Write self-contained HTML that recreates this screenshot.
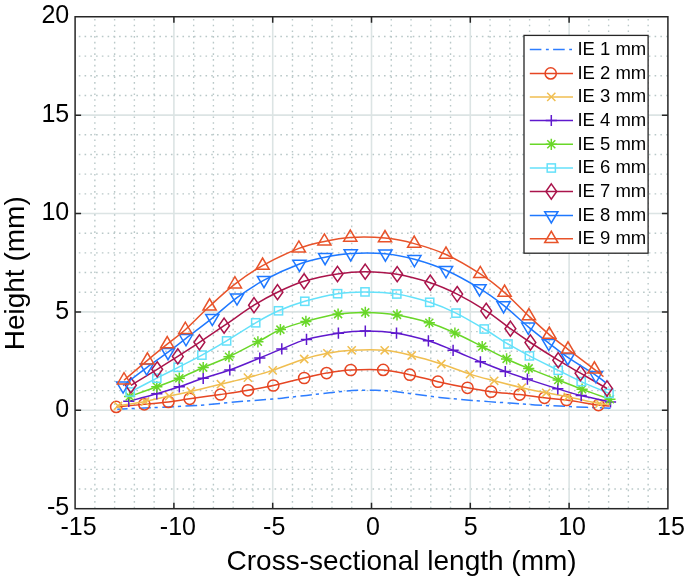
<!DOCTYPE html><html><head><meta charset="utf-8"><style>html,body{margin:0;padding:0;background:#fff;}svg{display:block;will-change:transform;}text{font-family:"Liberation Sans",sans-serif;}</style></head><body>
<svg width="685" height="579" viewBox="0 0 685 579">
<rect width="685" height="579" fill="#fff"/>
<path d="M94.86,508.70V16.75M114.62,508.70V16.75M134.38,508.70V16.75M154.14,508.70V16.75M193.66,508.70V16.75M213.42,508.70V16.75M233.18,508.70V16.75M252.94,508.70V16.75M292.46,508.70V16.75M312.22,508.70V16.75M331.98,508.70V16.75M351.74,508.70V16.75M391.26,508.70V16.75M411.02,508.70V16.75M430.78,508.70V16.75M450.54,508.70V16.75M490.06,508.70V16.75M509.82,508.70V16.75M529.58,508.70V16.75M549.34,508.70V16.75M588.86,508.70V16.75M608.62,508.70V16.75M628.38,508.70V16.75M648.14,508.70V16.75" stroke="#b9c8c8" stroke-width="1.4" stroke-dasharray="1.6 4.14" stroke-dashoffset="-0.3" fill="none"/>
<path d="M75.10,489.02H667.90M75.10,469.34H667.90M75.10,449.67H667.90M75.10,429.99H667.90M75.10,390.63H667.90M75.10,370.95H667.90M75.10,351.28H667.90M75.10,331.60H667.90M75.10,292.24H667.90M75.10,272.56H667.90M75.10,252.89H667.90M75.10,233.21H667.90M75.10,193.85H667.90M75.10,174.17H667.90M75.10,154.50H667.90M75.10,134.82H667.90M75.10,95.46H667.90M75.10,75.78H667.90M75.10,56.11H667.90M75.10,36.43H667.90" stroke="#b9c8c8" stroke-width="1.4" stroke-dasharray="1.6 4.158" stroke-dashoffset="-3.7" fill="none"/>
<path d="M173.90,508.70V16.75M272.70,508.70V16.75M371.50,508.70V16.75M470.30,508.70V16.75M569.10,508.70V16.75M75.10,410.31H667.90M75.10,311.92H667.90M75.10,213.53H667.90M75.10,115.14H667.90" stroke="#dce4e4" stroke-width="1.6" fill="none"/>
<path d="M117.30,409.20 C122.75,408.97 136.22,408.47 150.00,407.80 C163.78,407.13 185.00,406.23 200.00,405.20 C215.00,404.17 227.88,402.63 240.00,401.60 C252.12,400.57 265.20,399.63 272.70,399.00 C280.20,398.37 279.37,398.40 285.00,397.80 C290.63,397.20 299.08,396.23 306.50,395.40 C313.92,394.57 321.92,393.62 329.50,392.80 C337.08,391.98 345.75,390.93 352.00,390.50 C358.25,390.07 363.08,390.25 367.00,390.20 C370.92,390.15 372.23,390.10 375.50,390.20 C378.77,390.30 382.80,390.52 386.60,390.80 C390.40,391.08 394.25,391.42 398.30,391.90 C402.35,392.38 404.03,392.78 410.90,393.70 C417.77,394.62 429.28,396.28 439.50,397.40 C449.72,398.52 460.45,399.45 472.20,400.40 C483.95,401.35 499.53,402.35 510.00,403.10 C520.47,403.85 525.00,404.32 535.00,404.90 C545.00,405.48 557.42,406.03 570.00,406.60 C582.58,407.17 603.75,408.02 610.50,408.30" stroke="#2d7dff" stroke-width="1.5" fill="none" stroke-dasharray="11.6 3.9 3.2 4.4" stroke-dashoffset="1.11"/>
<path d="M116.20,406.90 C120.88,406.47 135.60,405.13 144.30,404.30 C153.00,403.47 160.83,402.82 168.40,401.90 C175.97,400.98 181.02,400.03 189.70,398.80 C198.38,397.57 210.80,395.92 220.50,394.50 C230.20,393.08 239.10,391.80 247.90,390.30 C256.70,388.80 263.92,387.55 273.30,385.50 C282.68,383.45 295.32,380.07 304.20,378.00 C313.08,375.93 318.85,374.43 326.60,373.10 C334.35,371.77 341.27,370.53 350.70,370.00 C360.13,369.47 373.35,369.12 383.20,369.90 C393.05,370.68 400.68,372.73 409.80,374.70 C418.92,376.67 428.28,379.52 437.90,381.70 C447.52,383.88 458.63,386.13 467.50,387.80 C476.37,389.47 482.42,390.57 491.10,391.70 C499.78,392.83 510.70,393.58 519.60,394.60 C528.50,395.62 536.68,396.90 544.50,397.80 C552.32,398.70 557.50,398.78 566.50,400.00 C575.50,401.22 591.32,404.10 598.50,405.10 C605.68,406.10 607.75,405.85 609.60,406.00" stroke="#e64623" stroke-width="1.5" fill="none"/>
<circle cx="116.20" cy="406.90" r="5.6" fill="none" stroke="#e64623" stroke-width="1.5"/>
<circle cx="144.30" cy="404.30" r="5.6" fill="none" stroke="#e64623" stroke-width="1.5"/>
<circle cx="168.40" cy="401.90" r="5.6" fill="none" stroke="#e64623" stroke-width="1.5"/>
<circle cx="189.70" cy="398.80" r="5.6" fill="none" stroke="#e64623" stroke-width="1.5"/>
<circle cx="220.50" cy="394.50" r="5.6" fill="none" stroke="#e64623" stroke-width="1.5"/>
<circle cx="247.90" cy="390.30" r="5.6" fill="none" stroke="#e64623" stroke-width="1.5"/>
<circle cx="273.30" cy="385.50" r="5.6" fill="none" stroke="#e64623" stroke-width="1.5"/>
<circle cx="304.20" cy="378.00" r="5.6" fill="none" stroke="#e64623" stroke-width="1.5"/>
<circle cx="326.60" cy="373.10" r="5.6" fill="none" stroke="#e64623" stroke-width="1.5"/>
<circle cx="350.70" cy="370.00" r="5.6" fill="none" stroke="#e64623" stroke-width="1.5"/>
<circle cx="383.20" cy="369.90" r="5.6" fill="none" stroke="#e64623" stroke-width="1.5"/>
<circle cx="409.80" cy="374.70" r="5.6" fill="none" stroke="#e64623" stroke-width="1.5"/>
<circle cx="437.90" cy="381.70" r="5.6" fill="none" stroke="#e64623" stroke-width="1.5"/>
<circle cx="467.50" cy="387.80" r="5.6" fill="none" stroke="#e64623" stroke-width="1.5"/>
<circle cx="491.10" cy="391.70" r="5.6" fill="none" stroke="#e64623" stroke-width="1.5"/>
<circle cx="519.60" cy="394.60" r="5.6" fill="none" stroke="#e64623" stroke-width="1.5"/>
<circle cx="544.50" cy="397.80" r="5.6" fill="none" stroke="#e64623" stroke-width="1.5"/>
<circle cx="566.50" cy="400.00" r="5.6" fill="none" stroke="#e64623" stroke-width="1.5"/>
<circle cx="598.50" cy="405.10" r="5.6" fill="none" stroke="#e64623" stroke-width="1.5"/>
<path d="M118.00,405.80 C122.52,405.08 136.57,403.12 145.10,401.50 C153.63,399.88 161.58,397.77 169.20,396.10 C176.82,394.43 182.18,393.48 190.80,391.50 C199.42,389.52 211.38,386.52 220.90,384.20 C230.42,381.88 239.27,379.90 247.90,377.60 C256.53,375.30 263.32,373.50 272.70,370.40 C282.08,367.30 295.08,361.85 304.20,359.00 C313.32,356.15 319.48,354.75 327.40,353.30 C335.32,351.85 342.15,350.80 351.70,350.30 C361.25,349.80 374.70,349.43 384.70,350.30 C394.70,351.17 402.27,353.22 411.70,355.50 C421.13,357.78 431.58,360.90 441.30,364.00 C451.02,367.10 461.18,371.30 470.00,374.10 C478.82,376.90 485.57,378.53 494.20,380.80 C502.83,383.07 513.13,385.70 521.80,387.70 C530.47,389.70 538.53,391.28 546.20,392.80 C553.87,394.32 558.92,395.00 567.80,396.80 C576.68,398.60 592.57,402.40 599.50,403.60 C606.43,404.80 607.75,403.93 609.40,404.00" stroke="#f0be50" stroke-width="1.5" fill="none"/>
<path d="M113.90,401.70L122.10,409.90M113.90,409.90L122.10,401.70" stroke="#f0be50" stroke-width="1.5" fill="none"/>
<path d="M141.00,397.40L149.20,405.60M141.00,405.60L149.20,397.40" stroke="#f0be50" stroke-width="1.5" fill="none"/>
<path d="M165.10,392.00L173.30,400.20M165.10,400.20L173.30,392.00" stroke="#f0be50" stroke-width="1.5" fill="none"/>
<path d="M186.70,387.40L194.90,395.60M186.70,395.60L194.90,387.40" stroke="#f0be50" stroke-width="1.5" fill="none"/>
<path d="M216.80,380.10L225.00,388.30M216.80,388.30L225.00,380.10" stroke="#f0be50" stroke-width="1.5" fill="none"/>
<path d="M243.80,373.50L252.00,381.70M243.80,381.70L252.00,373.50" stroke="#f0be50" stroke-width="1.5" fill="none"/>
<path d="M268.60,366.30L276.80,374.50M268.60,374.50L276.80,366.30" stroke="#f0be50" stroke-width="1.5" fill="none"/>
<path d="M300.10,354.90L308.30,363.10M300.10,363.10L308.30,354.90" stroke="#f0be50" stroke-width="1.5" fill="none"/>
<path d="M323.30,349.20L331.50,357.40M323.30,357.40L331.50,349.20" stroke="#f0be50" stroke-width="1.5" fill="none"/>
<path d="M347.60,346.20L355.80,354.40M347.60,354.40L355.80,346.20" stroke="#f0be50" stroke-width="1.5" fill="none"/>
<path d="M380.60,346.20L388.80,354.40M380.60,354.40L388.80,346.20" stroke="#f0be50" stroke-width="1.5" fill="none"/>
<path d="M407.60,351.40L415.80,359.60M407.60,359.60L415.80,351.40" stroke="#f0be50" stroke-width="1.5" fill="none"/>
<path d="M437.20,359.90L445.40,368.10M437.20,368.10L445.40,359.90" stroke="#f0be50" stroke-width="1.5" fill="none"/>
<path d="M465.90,370.00L474.10,378.20M465.90,378.20L474.10,370.00" stroke="#f0be50" stroke-width="1.5" fill="none"/>
<path d="M490.10,376.70L498.30,384.90M490.10,384.90L498.30,376.70" stroke="#f0be50" stroke-width="1.5" fill="none"/>
<path d="M517.70,383.60L525.90,391.80M517.70,391.80L525.90,383.60" stroke="#f0be50" stroke-width="1.5" fill="none"/>
<path d="M542.10,388.70L550.30,396.90M542.10,396.90L550.30,388.70" stroke="#f0be50" stroke-width="1.5" fill="none"/>
<path d="M563.70,392.70L571.90,400.90M563.70,400.90L571.90,392.70" stroke="#f0be50" stroke-width="1.5" fill="none"/>
<path d="M595.40,399.50L603.60,407.70M595.40,407.70L603.60,399.50" stroke="#f0be50" stroke-width="1.5" fill="none"/>
<path d="M128.80,401.30 C133.47,400.05 148.38,396.22 156.80,393.80 C165.22,391.38 171.57,389.38 179.30,386.80 C187.03,384.22 194.78,381.10 203.20,378.30 C211.62,375.50 220.37,373.38 229.80,370.00 C239.23,366.62 251.13,361.52 259.80,358.00 C268.47,354.48 274.02,352.00 281.80,348.90 C289.58,345.80 297.07,342.02 306.50,339.40 C315.93,336.78 328.60,334.58 338.40,333.20 C348.20,331.82 355.62,331.10 365.30,331.10 C374.98,331.10 385.98,331.58 396.50,333.20 C407.02,334.82 418.97,337.95 428.40,340.80 C437.83,343.65 444.43,346.80 453.10,350.30 C461.77,353.80 471.70,358.27 480.40,361.80 C489.10,365.33 497.47,368.62 505.30,371.50 C513.13,374.38 518.65,376.22 527.40,379.10 C536.15,381.98 548.83,386.05 557.80,388.80 C566.77,391.55 572.42,393.40 581.20,395.60 C589.98,397.80 605.62,400.93 610.50,402.00" stroke="#5f19cd" stroke-width="1.5" fill="none"/>
<path d="M123.20,401.30H134.40M128.80,395.70V406.90" stroke="#5f19cd" stroke-width="1.5" fill="none"/>
<path d="M151.20,393.80H162.40M156.80,388.20V399.40" stroke="#5f19cd" stroke-width="1.5" fill="none"/>
<path d="M173.70,386.80H184.90M179.30,381.20V392.40" stroke="#5f19cd" stroke-width="1.5" fill="none"/>
<path d="M197.60,378.30H208.80M203.20,372.70V383.90" stroke="#5f19cd" stroke-width="1.5" fill="none"/>
<path d="M224.20,370.00H235.40M229.80,364.40V375.60" stroke="#5f19cd" stroke-width="1.5" fill="none"/>
<path d="M254.20,358.00H265.40M259.80,352.40V363.60" stroke="#5f19cd" stroke-width="1.5" fill="none"/>
<path d="M276.20,348.90H287.40M281.80,343.30V354.50" stroke="#5f19cd" stroke-width="1.5" fill="none"/>
<path d="M300.90,339.40H312.10M306.50,333.80V345.00" stroke="#5f19cd" stroke-width="1.5" fill="none"/>
<path d="M332.80,333.20H344.00M338.40,327.60V338.80" stroke="#5f19cd" stroke-width="1.5" fill="none"/>
<path d="M359.70,331.10H370.90M365.30,325.50V336.70" stroke="#5f19cd" stroke-width="1.5" fill="none"/>
<path d="M390.90,333.20H402.10M396.50,327.60V338.80" stroke="#5f19cd" stroke-width="1.5" fill="none"/>
<path d="M422.80,340.80H434.00M428.40,335.20V346.40" stroke="#5f19cd" stroke-width="1.5" fill="none"/>
<path d="M447.50,350.30H458.70M453.10,344.70V355.90" stroke="#5f19cd" stroke-width="1.5" fill="none"/>
<path d="M474.80,361.80H486.00M480.40,356.20V367.40" stroke="#5f19cd" stroke-width="1.5" fill="none"/>
<path d="M499.70,371.50H510.90M505.30,365.90V377.10" stroke="#5f19cd" stroke-width="1.5" fill="none"/>
<path d="M521.80,379.10H533.00M527.40,373.50V384.70" stroke="#5f19cd" stroke-width="1.5" fill="none"/>
<path d="M552.20,388.80H563.40M557.80,383.20V394.40" stroke="#5f19cd" stroke-width="1.5" fill="none"/>
<path d="M575.60,395.60H586.80M581.20,390.00V401.20" stroke="#5f19cd" stroke-width="1.5" fill="none"/>
<path d="M604.90,402.00H616.10M610.50,396.40V407.60" stroke="#5f19cd" stroke-width="1.5" fill="none"/>
<path d="M129.60,396.50 C134.13,394.88 148.52,389.85 156.80,386.80 C165.08,383.75 171.57,381.42 179.30,378.20 C187.03,374.98 194.92,371.08 203.20,367.50 C211.48,363.92 219.88,360.98 229.00,356.70 C238.12,352.42 249.33,346.32 257.90,341.80 C266.47,337.28 272.40,333.00 280.40,329.60 C288.40,326.20 296.28,323.98 305.90,321.40 C315.52,318.82 328.20,315.60 338.10,314.10 C348.00,312.60 355.48,312.27 365.30,312.40 C375.12,312.53 386.33,313.18 397.00,314.90 C407.67,316.62 419.65,319.68 429.30,322.70 C438.95,325.72 446.08,329.03 454.90,333.00 C463.72,336.97 473.58,342.18 482.20,346.50 C490.82,350.82 498.85,355.25 506.60,358.90 C514.35,362.55 520.10,364.88 528.70,368.40 C537.30,371.92 549.30,376.53 558.20,380.00 C567.10,383.47 573.48,385.98 582.10,389.20 C590.72,392.42 605.27,397.62 609.90,399.30" stroke="#69d728" stroke-width="1.5" fill="none"/>
<path d="M124.00,396.50H135.20M129.60,390.90V402.10M125.60,392.50L133.60,400.50M125.60,400.50L133.60,392.50" stroke="#69d728" stroke-width="1.5" fill="none"/>
<path d="M151.20,386.80H162.40M156.80,381.20V392.40M152.80,382.80L160.80,390.80M152.80,390.80L160.80,382.80" stroke="#69d728" stroke-width="1.5" fill="none"/>
<path d="M173.70,378.20H184.90M179.30,372.60V383.80M175.30,374.20L183.30,382.20M175.30,382.20L183.30,374.20" stroke="#69d728" stroke-width="1.5" fill="none"/>
<path d="M197.60,367.50H208.80M203.20,361.90V373.10M199.20,363.50L207.20,371.50M199.20,371.50L207.20,363.50" stroke="#69d728" stroke-width="1.5" fill="none"/>
<path d="M223.40,356.70H234.60M229.00,351.10V362.30M225.00,352.70L233.00,360.70M225.00,360.70L233.00,352.70" stroke="#69d728" stroke-width="1.5" fill="none"/>
<path d="M252.30,341.80H263.50M257.90,336.20V347.40M253.90,337.80L261.90,345.80M253.90,345.80L261.90,337.80" stroke="#69d728" stroke-width="1.5" fill="none"/>
<path d="M274.80,329.60H286.00M280.40,324.00V335.20M276.40,325.60L284.40,333.60M276.40,333.60L284.40,325.60" stroke="#69d728" stroke-width="1.5" fill="none"/>
<path d="M300.30,321.40H311.50M305.90,315.80V327.00M301.90,317.40L309.90,325.40M301.90,325.40L309.90,317.40" stroke="#69d728" stroke-width="1.5" fill="none"/>
<path d="M332.50,314.10H343.70M338.10,308.50V319.70M334.10,310.10L342.10,318.10M334.10,318.10L342.10,310.10" stroke="#69d728" stroke-width="1.5" fill="none"/>
<path d="M359.70,312.40H370.90M365.30,306.80V318.00M361.30,308.40L369.30,316.40M361.30,316.40L369.30,308.40" stroke="#69d728" stroke-width="1.5" fill="none"/>
<path d="M391.40,314.90H402.60M397.00,309.30V320.50M393.00,310.90L401.00,318.90M393.00,318.90L401.00,310.90" stroke="#69d728" stroke-width="1.5" fill="none"/>
<path d="M423.70,322.70H434.90M429.30,317.10V328.30M425.30,318.70L433.30,326.70M425.30,326.70L433.30,318.70" stroke="#69d728" stroke-width="1.5" fill="none"/>
<path d="M449.30,333.00H460.50M454.90,327.40V338.60M450.90,329.00L458.90,337.00M450.90,337.00L458.90,329.00" stroke="#69d728" stroke-width="1.5" fill="none"/>
<path d="M476.60,346.50H487.80M482.20,340.90V352.10M478.20,342.50L486.20,350.50M478.20,350.50L486.20,342.50" stroke="#69d728" stroke-width="1.5" fill="none"/>
<path d="M501.00,358.90H512.20M506.60,353.30V364.50M502.60,354.90L510.60,362.90M502.60,362.90L510.60,354.90" stroke="#69d728" stroke-width="1.5" fill="none"/>
<path d="M523.10,368.40H534.30M528.70,362.80V374.00M524.70,364.40L532.70,372.40M524.70,372.40L532.70,364.40" stroke="#69d728" stroke-width="1.5" fill="none"/>
<path d="M552.60,380.00H563.80M558.20,374.40V385.60M554.20,376.00L562.20,384.00M554.20,384.00L562.20,376.00" stroke="#69d728" stroke-width="1.5" fill="none"/>
<path d="M576.50,389.20H587.70M582.10,383.60V394.80M578.10,385.20L586.10,393.20M578.10,393.20L586.10,385.20" stroke="#69d728" stroke-width="1.5" fill="none"/>
<path d="M604.30,399.30H615.50M609.90,393.70V404.90M605.90,395.30L613.90,403.30M605.90,403.30L613.90,395.30" stroke="#69d728" stroke-width="1.5" fill="none"/>
<path d="M130.20,392.00 C134.63,389.70 148.80,382.32 156.80,378.20 C164.80,374.08 170.68,371.15 178.20,367.30 C185.72,363.45 193.83,359.50 201.90,355.10 C209.97,350.70 217.63,346.28 226.60,340.90 C235.57,335.52 247.05,327.82 255.70,322.80 C264.35,317.78 270.32,314.38 278.50,310.80 C286.68,307.22 294.95,304.15 304.80,301.30 C314.65,298.45 327.57,295.27 337.60,293.70 C347.63,292.13 355.13,291.85 365.00,291.90 C374.87,291.95 386.02,292.27 396.80,294.00 C407.58,295.73 419.83,299.12 429.70,302.30 C439.57,305.48 446.92,308.65 456.00,313.10 C465.08,317.55 475.53,323.85 484.20,329.00 C492.87,334.15 500.47,339.52 508.00,344.00 C515.53,348.48 521.03,351.52 529.40,355.90 C537.77,360.28 549.57,366.02 558.20,370.30 C566.83,374.58 572.73,377.75 581.20,381.60 C589.67,385.45 604.37,391.43 609.00,393.40" stroke="#64e1fa" stroke-width="1.5" fill="none"/>
<rect x="126.10" y="387.90" width="8.20" height="8.20" fill="none" stroke="#64e1fa" stroke-width="1.5"/>
<rect x="152.70" y="374.10" width="8.20" height="8.20" fill="none" stroke="#64e1fa" stroke-width="1.5"/>
<rect x="174.10" y="363.20" width="8.20" height="8.20" fill="none" stroke="#64e1fa" stroke-width="1.5"/>
<rect x="197.80" y="351.00" width="8.20" height="8.20" fill="none" stroke="#64e1fa" stroke-width="1.5"/>
<rect x="222.50" y="336.80" width="8.20" height="8.20" fill="none" stroke="#64e1fa" stroke-width="1.5"/>
<rect x="251.60" y="318.70" width="8.20" height="8.20" fill="none" stroke="#64e1fa" stroke-width="1.5"/>
<rect x="274.40" y="306.70" width="8.20" height="8.20" fill="none" stroke="#64e1fa" stroke-width="1.5"/>
<rect x="300.70" y="297.20" width="8.20" height="8.20" fill="none" stroke="#64e1fa" stroke-width="1.5"/>
<rect x="333.50" y="289.60" width="8.20" height="8.20" fill="none" stroke="#64e1fa" stroke-width="1.5"/>
<rect x="360.90" y="287.80" width="8.20" height="8.20" fill="none" stroke="#64e1fa" stroke-width="1.5"/>
<rect x="392.70" y="289.90" width="8.20" height="8.20" fill="none" stroke="#64e1fa" stroke-width="1.5"/>
<rect x="425.60" y="298.20" width="8.20" height="8.20" fill="none" stroke="#64e1fa" stroke-width="1.5"/>
<rect x="451.90" y="309.00" width="8.20" height="8.20" fill="none" stroke="#64e1fa" stroke-width="1.5"/>
<rect x="480.10" y="324.90" width="8.20" height="8.20" fill="none" stroke="#64e1fa" stroke-width="1.5"/>
<rect x="503.90" y="339.90" width="8.20" height="8.20" fill="none" stroke="#64e1fa" stroke-width="1.5"/>
<rect x="525.30" y="351.80" width="8.20" height="8.20" fill="none" stroke="#64e1fa" stroke-width="1.5"/>
<rect x="554.10" y="366.20" width="8.20" height="8.20" fill="none" stroke="#64e1fa" stroke-width="1.5"/>
<rect x="577.10" y="377.50" width="8.20" height="8.20" fill="none" stroke="#64e1fa" stroke-width="1.5"/>
<rect x="604.90" y="389.30" width="8.20" height="8.20" fill="none" stroke="#64e1fa" stroke-width="1.5"/>
<path d="M130.90,385.30 C135.28,382.63 149.38,374.12 157.20,369.30 C165.02,364.48 170.77,360.90 177.80,356.40 C184.83,351.90 191.68,347.42 199.40,342.30 C207.12,337.18 215.00,331.88 224.10,325.70 C233.20,319.52 245.10,310.78 254.00,305.20 C262.90,299.62 269.15,296.18 277.50,292.20 C285.85,288.22 294.10,284.33 304.10,281.30 C314.10,278.27 327.32,275.60 337.50,274.00 C347.68,272.40 355.25,271.67 365.20,271.70 C375.15,271.73 386.35,272.37 397.20,274.20 C408.05,276.03 420.30,279.38 430.30,282.70 C440.30,286.02 447.88,289.40 457.20,294.10 C466.52,298.80 477.33,305.13 486.20,310.90 C495.07,316.67 503.03,323.43 510.40,328.70 C517.77,333.97 522.43,337.25 530.40,342.50 C538.37,347.75 549.85,355.08 558.20,360.20 C566.55,365.32 572.37,368.48 580.50,373.20 C588.63,377.92 602.58,385.95 607.00,388.50" stroke="#aa144b" stroke-width="1.5" fill="none"/>
<path d="M130.90,377.70L136.30,385.30L130.90,392.90L125.50,385.30Z" fill="none" stroke="#aa144b" stroke-width="1.5"/>
<path d="M157.20,361.70L162.60,369.30L157.20,376.90L151.80,369.30Z" fill="none" stroke="#aa144b" stroke-width="1.5"/>
<path d="M177.80,348.80L183.20,356.40L177.80,364.00L172.40,356.40Z" fill="none" stroke="#aa144b" stroke-width="1.5"/>
<path d="M199.40,334.70L204.80,342.30L199.40,349.90L194.00,342.30Z" fill="none" stroke="#aa144b" stroke-width="1.5"/>
<path d="M224.10,318.10L229.50,325.70L224.10,333.30L218.70,325.70Z" fill="none" stroke="#aa144b" stroke-width="1.5"/>
<path d="M254.00,297.60L259.40,305.20L254.00,312.80L248.60,305.20Z" fill="none" stroke="#aa144b" stroke-width="1.5"/>
<path d="M277.50,284.60L282.90,292.20L277.50,299.80L272.10,292.20Z" fill="none" stroke="#aa144b" stroke-width="1.5"/>
<path d="M304.10,273.70L309.50,281.30L304.10,288.90L298.70,281.30Z" fill="none" stroke="#aa144b" stroke-width="1.5"/>
<path d="M337.50,266.40L342.90,274.00L337.50,281.60L332.10,274.00Z" fill="none" stroke="#aa144b" stroke-width="1.5"/>
<path d="M365.20,264.10L370.60,271.70L365.20,279.30L359.80,271.70Z" fill="none" stroke="#aa144b" stroke-width="1.5"/>
<path d="M397.20,266.60L402.60,274.20L397.20,281.80L391.80,274.20Z" fill="none" stroke="#aa144b" stroke-width="1.5"/>
<path d="M430.30,275.10L435.70,282.70L430.30,290.30L424.90,282.70Z" fill="none" stroke="#aa144b" stroke-width="1.5"/>
<path d="M457.20,286.50L462.60,294.10L457.20,301.70L451.80,294.10Z" fill="none" stroke="#aa144b" stroke-width="1.5"/>
<path d="M486.20,303.30L491.60,310.90L486.20,318.50L480.80,310.90Z" fill="none" stroke="#aa144b" stroke-width="1.5"/>
<path d="M510.40,321.10L515.80,328.70L510.40,336.30L505.00,328.70Z" fill="none" stroke="#aa144b" stroke-width="1.5"/>
<path d="M530.40,334.90L535.80,342.50L530.40,350.10L525.00,342.50Z" fill="none" stroke="#aa144b" stroke-width="1.5"/>
<path d="M558.20,352.60L563.60,360.20L558.20,367.80L552.80,360.20Z" fill="none" stroke="#aa144b" stroke-width="1.5"/>
<path d="M580.50,365.60L585.90,373.20L580.50,380.80L575.10,373.20Z" fill="none" stroke="#aa144b" stroke-width="1.5"/>
<path d="M607.00,380.90L612.40,388.50L607.00,396.10L601.60,388.50Z" fill="none" stroke="#aa144b" stroke-width="1.5"/>
<path d="M123.10,385.60 C127.03,382.60 139.22,373.17 146.70,367.60 C154.18,362.03 161.45,357.08 168.00,352.20 C174.55,347.32 178.62,343.98 186.00,338.30 C193.38,332.62 203.80,324.88 212.30,318.10 C220.80,311.32 228.38,303.92 237.00,297.60 C245.62,291.28 253.58,285.80 264.00,280.20 C274.42,274.60 289.32,267.83 299.50,264.00 C309.68,260.17 316.57,258.97 325.10,257.20 C333.63,255.43 340.65,253.98 350.70,253.40 C360.75,252.82 374.78,252.72 385.40,253.70 C396.02,254.68 404.30,256.53 414.40,259.30 C424.50,262.07 435.15,265.45 446.00,270.30 C456.85,275.15 469.90,282.55 479.50,288.40 C489.10,294.25 495.47,299.00 503.60,305.40 C511.73,311.80 520.77,320.52 528.30,326.80 C535.83,333.08 542.22,338.00 548.80,343.10 C555.38,348.20 559.95,352.03 567.80,357.40 C575.65,362.77 589.63,371.12 595.90,375.30 C602.17,379.48 603.82,381.30 605.40,382.50" stroke="#1e78ff" stroke-width="1.5" fill="none"/>
<path d="M116.50,381.90H129.70L123.10,393.10Z" fill="none" stroke="#1e78ff" stroke-width="1.5"/>
<path d="M140.10,363.90H153.30L146.70,375.10Z" fill="none" stroke="#1e78ff" stroke-width="1.5"/>
<path d="M161.40,348.50H174.60L168.00,359.70Z" fill="none" stroke="#1e78ff" stroke-width="1.5"/>
<path d="M179.40,334.60H192.60L186.00,345.80Z" fill="none" stroke="#1e78ff" stroke-width="1.5"/>
<path d="M205.70,314.40H218.90L212.30,325.60Z" fill="none" stroke="#1e78ff" stroke-width="1.5"/>
<path d="M230.40,293.90H243.60L237.00,305.10Z" fill="none" stroke="#1e78ff" stroke-width="1.5"/>
<path d="M257.40,276.50H270.60L264.00,287.70Z" fill="none" stroke="#1e78ff" stroke-width="1.5"/>
<path d="M292.90,260.30H306.10L299.50,271.50Z" fill="none" stroke="#1e78ff" stroke-width="1.5"/>
<path d="M318.50,253.50H331.70L325.10,264.70Z" fill="none" stroke="#1e78ff" stroke-width="1.5"/>
<path d="M344.10,249.70H357.30L350.70,260.90Z" fill="none" stroke="#1e78ff" stroke-width="1.5"/>
<path d="M378.80,250.00H392.00L385.40,261.20Z" fill="none" stroke="#1e78ff" stroke-width="1.5"/>
<path d="M407.80,255.60H421.00L414.40,266.80Z" fill="none" stroke="#1e78ff" stroke-width="1.5"/>
<path d="M439.40,266.60H452.60L446.00,277.80Z" fill="none" stroke="#1e78ff" stroke-width="1.5"/>
<path d="M472.90,284.70H486.10L479.50,295.90Z" fill="none" stroke="#1e78ff" stroke-width="1.5"/>
<path d="M497.00,301.70H510.20L503.60,312.90Z" fill="none" stroke="#1e78ff" stroke-width="1.5"/>
<path d="M521.70,323.10H534.90L528.30,334.30Z" fill="none" stroke="#1e78ff" stroke-width="1.5"/>
<path d="M542.20,339.40H555.40L548.80,350.60Z" fill="none" stroke="#1e78ff" stroke-width="1.5"/>
<path d="M561.20,353.70H574.40L567.80,364.90Z" fill="none" stroke="#1e78ff" stroke-width="1.5"/>
<path d="M589.30,371.60H602.50L595.90,382.80Z" fill="none" stroke="#1e78ff" stroke-width="1.5"/>
<path d="M124.00,380.20 C127.90,376.88 140.20,366.32 147.40,360.30 C154.60,354.28 160.88,349.20 167.20,344.10 C173.52,339.00 178.23,336.00 185.30,329.70 C192.37,323.40 201.33,313.88 209.60,306.30 C217.87,298.72 226.07,290.98 234.90,284.20 C243.73,277.42 251.93,271.57 262.60,265.60 C273.27,259.63 288.60,252.43 298.90,248.40 C309.20,244.37 315.83,243.22 324.40,241.40 C332.97,239.58 340.20,238.05 350.30,237.50 C360.40,236.95 374.35,237.08 385.00,238.10 C395.65,239.12 404.03,240.87 414.20,243.60 C424.37,246.33 434.98,249.45 446.00,254.50 C457.02,259.55 470.53,267.55 480.30,273.90 C490.07,280.25 496.50,285.57 504.60,292.60 C512.70,299.63 521.45,309.10 528.90,316.10 C536.35,323.10 542.78,329.07 549.30,334.60 C555.82,340.13 560.48,343.52 568.00,349.30 C575.52,355.08 588.48,364.75 594.40,369.30 C600.32,373.85 601.98,375.38 603.50,376.60" stroke="#e8532a" stroke-width="1.5" fill="none"/>
<path d="M117.40,383.90H130.60L124.00,372.70Z" fill="none" stroke="#e8532a" stroke-width="1.5"/>
<path d="M140.80,364.00H154.00L147.40,352.80Z" fill="none" stroke="#e8532a" stroke-width="1.5"/>
<path d="M160.60,347.80H173.80L167.20,336.60Z" fill="none" stroke="#e8532a" stroke-width="1.5"/>
<path d="M178.70,333.40H191.90L185.30,322.20Z" fill="none" stroke="#e8532a" stroke-width="1.5"/>
<path d="M203.00,310.00H216.20L209.60,298.80Z" fill="none" stroke="#e8532a" stroke-width="1.5"/>
<path d="M228.30,287.90H241.50L234.90,276.70Z" fill="none" stroke="#e8532a" stroke-width="1.5"/>
<path d="M256.00,269.30H269.20L262.60,258.10Z" fill="none" stroke="#e8532a" stroke-width="1.5"/>
<path d="M292.30,252.10H305.50L298.90,240.90Z" fill="none" stroke="#e8532a" stroke-width="1.5"/>
<path d="M317.80,245.10H331.00L324.40,233.90Z" fill="none" stroke="#e8532a" stroke-width="1.5"/>
<path d="M343.70,241.20H356.90L350.30,230.00Z" fill="none" stroke="#e8532a" stroke-width="1.5"/>
<path d="M378.40,241.80H391.60L385.00,230.60Z" fill="none" stroke="#e8532a" stroke-width="1.5"/>
<path d="M407.60,247.30H420.80L414.20,236.10Z" fill="none" stroke="#e8532a" stroke-width="1.5"/>
<path d="M439.40,258.20H452.60L446.00,247.00Z" fill="none" stroke="#e8532a" stroke-width="1.5"/>
<path d="M473.70,277.60H486.90L480.30,266.40Z" fill="none" stroke="#e8532a" stroke-width="1.5"/>
<path d="M498.00,296.30H511.20L504.60,285.10Z" fill="none" stroke="#e8532a" stroke-width="1.5"/>
<path d="M522.30,319.80H535.50L528.90,308.60Z" fill="none" stroke="#e8532a" stroke-width="1.5"/>
<path d="M542.70,338.30H555.90L549.30,327.10Z" fill="none" stroke="#e8532a" stroke-width="1.5"/>
<path d="M561.40,353.00H574.60L568.00,341.80Z" fill="none" stroke="#e8532a" stroke-width="1.5"/>
<path d="M587.80,373.00H601.00L594.40,361.80Z" fill="none" stroke="#e8532a" stroke-width="1.5"/>
<rect x="75.10" y="16.75" width="592.80" height="491.95" fill="none" stroke="#262626" stroke-width="1.5"/>
<path d="M173.90,508.70V502.70M173.90,16.75V22.75M272.70,508.70V502.70M272.70,16.75V22.75M371.50,508.70V502.70M371.50,16.75V22.75M470.30,508.70V502.70M470.30,16.75V22.75M569.10,508.70V502.70M569.10,16.75V22.75M75.10,410.31H81.10M667.90,410.31H661.90M75.10,311.92H81.10M667.90,311.92H661.90M75.10,213.53H81.10M667.90,213.53H661.90M75.10,115.14H81.10M667.90,115.14H661.90" stroke="#262626" stroke-width="1.5" fill="none"/>
<text x="78.60" y="535.2" font-size="25" text-anchor="middle" fill="#000">-15</text>
<text x="177.90" y="535.2" font-size="25" text-anchor="middle" fill="#000">-10</text>
<text x="274.20" y="535.2" font-size="25" text-anchor="middle" fill="#000">-5</text>
<text x="373.00" y="535.2" font-size="25" text-anchor="middle" fill="#000">0</text>
<text x="470.80" y="535.2" font-size="25" text-anchor="middle" fill="#000">5</text>
<text x="572.10" y="535.2" font-size="25" text-anchor="middle" fill="#000">10</text>
<text x="670.90" y="535.2" font-size="25" text-anchor="middle" fill="#000">15</text>
<text x="69.2" y="515.30" font-size="25" text-anchor="end" fill="#000">-5</text>
<text x="69.2" y="416.91" font-size="25" text-anchor="end" fill="#000">0</text>
<text x="69.2" y="318.52" font-size="25" text-anchor="end" fill="#000">5</text>
<text x="69.2" y="220.13" font-size="25" text-anchor="end" fill="#000">10</text>
<text x="69.2" y="121.74" font-size="25" text-anchor="end" fill="#000">15</text>
<text x="69.2" y="23.35" font-size="25" text-anchor="end" fill="#000">20</text>
<text x="401.6" y="569.7" font-size="28" text-anchor="middle" fill="#000">Cross-sectional length (mm)</text>
<text transform="translate(23.5,273.3) rotate(-90)" x="0" y="0" font-size="28" text-anchor="middle" fill="#000">Height (mm)</text>
<rect x="524.0" y="35.4" width="124.10" height="217.80" fill="#fff" stroke="#262626" stroke-width="1.3"/>
<path d="M529.8,49.4H572" stroke="#2d7dff" stroke-width="1.5" stroke-dasharray="11.6 4.5 2.9 4.3" fill="none"/>
<text x="577.4" y="54.80" font-size="18.5" fill="#000">IE 1 mm</text>
<path d="M529.8,73.4H573" stroke="#e64623" stroke-width="1.5" fill="none"/>
<circle cx="550.70" cy="73.40" r="5.6" fill="none" stroke="#e64623" stroke-width="1.5"/>
<text x="577.4" y="78.80" font-size="18.5" fill="#000">IE 2 mm</text>
<path d="M529.8,96.9H573" stroke="#f0be50" stroke-width="1.5" fill="none"/>
<path d="M547.20,92.80L555.40,101.00M547.20,101.00L555.40,92.80" stroke="#f0be50" stroke-width="1.5" fill="none"/>
<text x="577.4" y="102.30" font-size="18.5" fill="#000">IE 3 mm</text>
<path d="M529.8,120.5H573" stroke="#5f19cd" stroke-width="1.5" fill="none"/>
<path d="M545.70,120.50H556.90M551.30,114.90V126.10" stroke="#5f19cd" stroke-width="1.5" fill="none"/>
<text x="577.4" y="125.90" font-size="18.5" fill="#000">IE 4 mm</text>
<path d="M529.8,144.3H573" stroke="#69d728" stroke-width="1.5" fill="none"/>
<path d="M545.70,144.30H556.90M551.30,138.70V149.90M547.30,140.30L555.30,148.30M547.30,148.30L555.30,140.30" stroke="#69d728" stroke-width="1.5" fill="none"/>
<text x="577.4" y="149.70" font-size="18.5" fill="#000">IE 5 mm</text>
<path d="M529.8,168.0H573" stroke="#64e1fa" stroke-width="1.5" fill="none"/>
<rect x="547.20" y="163.90" width="8.20" height="8.20" fill="none" stroke="#64e1fa" stroke-width="1.5"/>
<text x="577.4" y="173.40" font-size="18.5" fill="#000">IE 6 mm</text>
<path d="M529.8,191.5H573" stroke="#aa144b" stroke-width="1.5" fill="none"/>
<path d="M551.30,183.90L556.70,191.50L551.30,199.10L545.90,191.50Z" fill="none" stroke="#aa144b" stroke-width="1.5"/>
<text x="577.4" y="196.90" font-size="18.5" fill="#000">IE 7 mm</text>
<path d="M529.8,215.4H573" stroke="#1e78ff" stroke-width="1.5" fill="none"/>
<path d="M544.70,211.70H557.90L551.30,222.90Z" fill="none" stroke="#1e78ff" stroke-width="1.5"/>
<text x="577.4" y="220.80" font-size="18.5" fill="#000">IE 8 mm</text>
<path d="M529.8,238.8H573" stroke="#e8532a" stroke-width="1.5" fill="none"/>
<path d="M544.70,242.50H557.90L551.30,231.30Z" fill="none" stroke="#e8532a" stroke-width="1.5"/>
<text x="577.4" y="244.20" font-size="18.5" fill="#000">IE 9 mm</text>
</svg></body></html>
